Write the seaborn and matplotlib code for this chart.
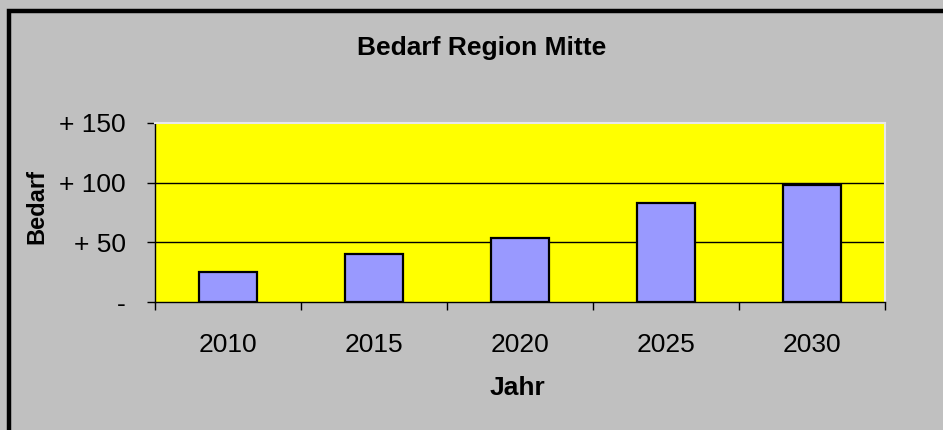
import numpy as np
import pandas as pd
import matplotlib
matplotlib.use('Agg')
import matplotlib.pyplot as plt
import seaborn as sns
from matplotlib.patches import Rectangle

years = ['2010', '2015', '2020', '2025', '2030']
bedarf = [25, 40, 54, 83, 98]
ytick_vals = [0, 50, 100, 150]
ytick_labels = ['-', '+ 50', '+ 100', '+ 150']

sns.set_style('white')
plt.rcParams['font.family'] = ['Liberation Sans', 'DejaVu Sans']
plt.rcParams['text.color'] = 'black'
plt.rcParams['xtick.color'] = 'black'
plt.rcParams['ytick.color'] = 'black'

df = pd.DataFrame({'Jahr': years, 'Bedarf': bedarf})

fig = plt.figure(figsize=(9.43, 4.30), dpi=100)
fig.patch.set_facecolor('#C0C0C0')
ax = fig.add_axes([155/943, 1 - 302/430, (885 - 155)/943, (302 - 123)/430])
ax.set_facecolor('#FFFF00')

sns.barplot(data=df, x='Jahr', y='Bedarf', ax=ax, width=0.4,
            color='#9999FF', saturation=1, edgecolor='black', linewidth=1.6, zorder=3)

ax.set_ylim(0, 150)
ax.set_xlim(-0.5, len(years) - 0.5)
ax.set_yticks(ytick_vals)
ax.set_yticklabels(ytick_labels, fontsize=19)
for y in [50, 100]:
    ax.axhline(y, color='black', lw=1.0, zorder=1)

# category ticks at the boundaries, labels in the middle
ax.set_xticks(np.arange(-0.5, len(years), 1.0))
ax.set_xticklabels([''] * (len(years) + 1))
ax.set_xticks(np.arange(len(years)), minor=True)
ax.set_xticklabels(years, minor=True, fontsize=19)
ax.tick_params(axis='x', which='major', direction='out', length=6, width=1, bottom=True)
ax.tick_params(axis='x', which='minor', length=0, pad=22)
ax.tick_params(axis='y', direction='out', length=6, width=1, left=True, pad=15)

ax.set_xlabel('')
ax.set_ylabel('')
for side in ['left', 'bottom']:
    ax.spines[side].set_color('black')
    ax.spines[side].set_linewidth(1.0)
for side in ['top', 'right']:
    ax.spines[side].set_color('#E8E8E8')
    ax.spines[side].set_linewidth(1.5)

fig.text(482/943, 1 - 48/430, 'Bedarf Region Mitte', ha='center', va='center',
         fontsize=19, fontweight='bold')
fig.text(517/943, 1 - 388/430, 'Jahr', ha='center', va='center',
         fontsize=19, fontweight='bold')
fig.text(37/943, 1 - 206/430, 'Bedarf', ha='center', va='center', rotation=90,
         fontsize=17, fontweight='bold')

# outer frame
fig.patches.append(Rectangle((9/943, -0.1), 1.2, 1 - 11/430 + 0.1,
                             transform=fig.transFigure, fill=False,
                             edgecolor='black', linewidth=3.2))

fig.savefig('out.png', dpi=100, facecolor=fig.get_facecolor())
